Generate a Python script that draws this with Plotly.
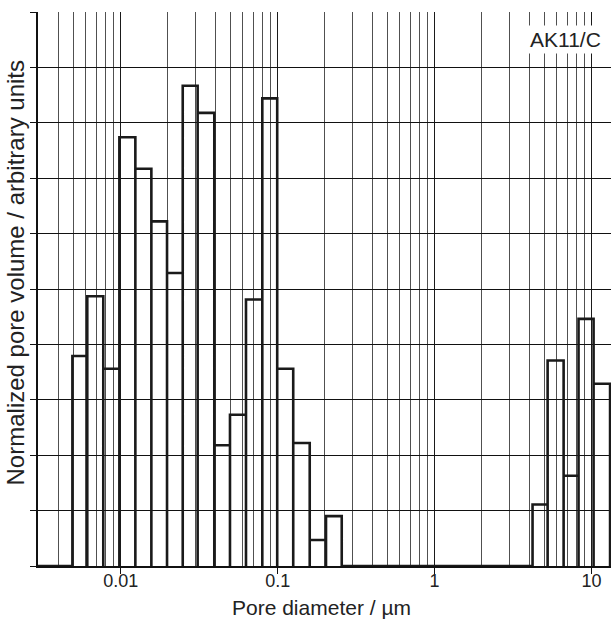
import numpy as np
import plotly.graph_objects as go

# ---- data ----
# pore-diameter bin edges (µm) of the two populated groups
edges_meso = [0.00492, 0.00612, 0.00774, 0.00980, 0.01239, 0.01567, 0.01972,
              0.02483, 0.03090, 0.03945, 0.04966, 0.06281, 0.07980, 0.09931,
              0.1256, 0.1600, 0.2032, 0.2559]
volume_meso = [3.79, 4.87, 3.56, 7.74, 7.17, 6.22, 5.29, 8.67, 8.18, 2.18,
               2.73, 4.81, 8.44, 3.56, 2.22, 0.47, 0.90]
edges_macro = [4.207, 5.248, 6.637, 8.260, 10.30, 13.12]
volume_macro = [1.11, 3.71, 1.63, 4.46, 3.29]

major_ticks = [0.01, 0.1, 1, 10]
major_labels = ["0.01", "0.1", "1", "10"]
minor_ticks = [m * 10.0 ** e for e in range(-3, 2) for m in range(2, 10)]

sample_label = "AK11/C"
x_title = "Pore diameter / µm"
y_title = "Normalized pore volume / arbitrary units"

x_min, x_max = 0.00297, 13.3
y_min, y_max = 0, 10

# ---- build the stepped histogram outline ----
xs, ys = [x_min], [0]
for edges, vols in ((edges_meso, volume_meso), (edges_macro, volume_macro)):
    for left, right, v in zip(edges[:-1], edges[1:], vols):
        xs += [left, left, right, right]
        ys += [0, v, v, 0]
xs.append(x_max * 2)
ys.append(0)

FONT = "Liberation Sans, Arial, sans-serif"

fig = go.Figure()
fig.add_trace(go.Scatter(
    x=xs, y=ys, mode="lines",
    line=dict(color="#1a1a1a", width=2.6),
    hoverinfo="skip", showlegend=False,
))

fig.update_layout(
    width=611, height=628,
    margin=dict(l=38, r=0, t=12, b=62),
    paper_bgcolor="white", plot_bgcolor="white",
    font=dict(family=FONT, color="#222", size=18),
    showlegend=False,
)
fig.update_xaxes(
    type="log",
    range=[np.log10(x_min), np.log10(x_max)],
    tickmode="array", tickvals=major_ticks, ticktext=major_labels,
    ticks="outside", ticklen=6, tickwidth=1.2, tickcolor="#111",
    ticklabelstandoff=-8,
    showline=True, linecolor="#111", linewidth=1.5,
    showgrid=True, gridcolor="#1a1a1a", gridwidth=1.1,
    tickfont=dict(family=FONT, size=18, color="#222"),
    minor=dict(tickmode="array", tickvals=minor_ticks, ticks="",
               showgrid=True, gridcolor="#505050", gridwidth=1),
    zeroline=False,
)
fig.update_yaxes(
    range=[y_min, y_max], dtick=1, tick0=0,
    showticklabels=False,
    ticks="outside", ticklen=6, tickwidth=1.2, tickcolor="#111",
    showline=True, linecolor="#111", linewidth=1.5,
    showgrid=True, gridcolor="#111", gridwidth=1.3,
    zeroline=False,
)

fig.add_annotation(
    text=x_title, xref="paper", yref="paper", x=0.495, y=-0.075,
    xanchor="center", yanchor="middle", showarrow=False,
    font=dict(family=FONT, size=21, color="#222"),
)
fig.add_annotation(
    text=y_title, xref="paper", yref="paper", x=-0.04, y=0.53,
    xanchor="center", yanchor="middle", textangle=-90, showarrow=False,
    font=dict(family=FONT, size=24, color="#222"),
)
fig.add_annotation(
    text=sample_label, xref="paper", yref="paper", x=0.92, y=0.95,
    xanchor="center", yanchor="middle", showarrow=False,
    bgcolor="white", borderpad=2,
    font=dict(family=FONT, size=21, color="#222"),
)

fig.write_html("out.html")
